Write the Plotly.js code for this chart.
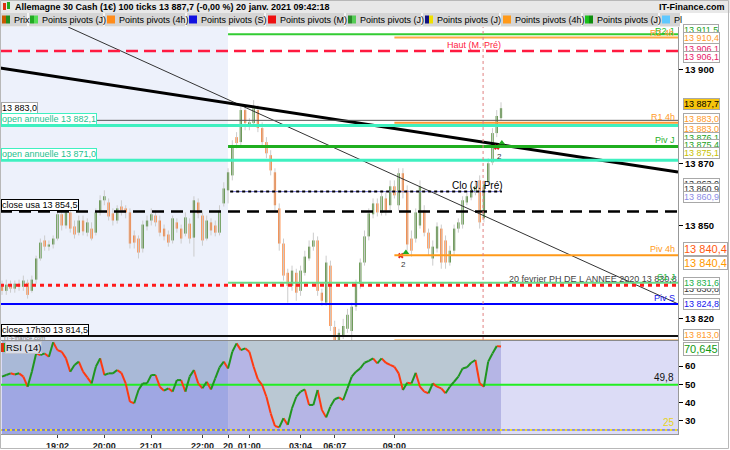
<!DOCTYPE html>
<html><head><meta charset="utf-8">
<script src="https://cdn.plot.ly/plotly-3.0.1.min.js"></script>
<style>html,body{margin:0;padding:0;background:#fff}#chart{width:730px;height:450px}</style>
</head><body><div id="chart"></div>
<script>
// ---------- DATA ----------
const openP = [13830.6,13829.0,13831.0,13829.7,13831.3,13830.3,13831.6,13829.0,13832.6,13839.4,
13845.2,13843.2,13843.9,13845.8,13853.6,13850.0,13854.2,13849.7,13847.7,13851.6,
13847.7,13849.0,13847.7,13854.2,13858.1,13857.4,13853.9,13851.6,13856.1,13855.5,
13854.2,13846.8,13845.8,13842.6,13849.7,13851.6,13853.2,13851.6,13849.0,13847.1,
13845.2,13851.0,13849.0,13847.4,13850.6,13846.1,13857.4,13853.2,13845.8,13851.0,
13850.0,13847.7,13857.1,13861.3,13866.1,13878.4,13876.8,13887.1,13882.3,13882.9,
13887.1,13881.3,13876.8,13872.6,13867.1,13855.5,13844.2,13834.8,13830.6,13834.8,
13829.0,13834.8,13839.4,13843.2,13845.2,13828.4,13825.2,13837.1,13817.4,13812.9,
13814.8,13816.8,13816.1,13823.9,13831.3,13838.1,13846.5,13853.6,13857.1,13854.2,
13858.7,13856.5,13862.6,13856.5,13866.8,13861.3,13845.8,13845.8,13850.0,13854.8,
13847.7,13839.4,13842.6,13849.0,13845.2,13838.1,13841.9,13849.0,13850.3,13857.4,
13859.0,13860.6,13864.5,13852.3,13863.9,13870.3,13879.7,13884.5];
const highP = [13832.3,13832.6,13832.3,13832.3,13832.6,13833.9,13832.6,13833.9,13840.3,13845.8,
13846.8,13845.2,13846.8,13855.5,13854.8,13858.1,13855.5,13851.6,13853.2,13853.2,
13852.3,13851.0,13855.5,13859.7,13861.3,13858.7,13855.5,13856.5,13858.1,13856.5,
13855.5,13848.4,13846.8,13851.6,13853.2,13855.5,13854.8,13853.2,13850.3,13848.4,
13853.2,13852.3,13850.3,13854.2,13852.3,13859.4,13858.7,13854.8,13853.2,13852.3,
13851.6,13856.5,13863.9,13868.4,13877.4,13880.0,13888.7,13888.7,13884.5,13890.3,
13888.7,13883.2,13878.4,13874.2,13868.4,13857.1,13845.8,13836.1,13837.1,13836.1,
13837.1,13841.9,13845.2,13847.7,13846.5,13829.7,13840.3,13838.7,13819.4,13816.8,
13820.0,13823.2,13825.2,13832.6,13839.4,13848.4,13855.5,13858.7,13858.7,13861.3,
13860.6,13864.5,13864.5,13868.4,13868.4,13862.9,13848.4,13855.5,13864.5,13856.5,
13849.0,13845.2,13851.0,13850.3,13846.8,13843.5,13850.3,13852.3,13859.4,13860.6,
13862.9,13864.5,13866.1,13864.5,13871.6,13881.3,13887.1,13889.6];
const lowP = [13827.7,13827.7,13828.4,13828.4,13829.0,13829.0,13826.5,13828.4,13831.3,13838.7,
13841.9,13841.9,13842.6,13845.2,13848.4,13849.0,13847.7,13845.8,13846.8,13846.8,
13846.5,13845.2,13846.8,13853.2,13856.5,13851.6,13850.0,13850.6,13853.2,13852.3,
13842.6,13842.6,13839.4,13841.3,13848.4,13850.0,13849.7,13846.5,13845.2,13843.2,
13844.2,13847.7,13844.2,13846.5,13844.2,13840.0,13852.3,13843.5,13845.2,13846.8,
13846.5,13846.8,13856.1,13857.1,13864.5,13874.8,13875.8,13880.6,13880.6,13882.3,
13880.0,13875.8,13871.6,13866.1,13854.8,13841.9,13832.3,13825.2,13829.0,13825.8,
13827.4,13833.9,13838.7,13841.9,13827.4,13824.2,13824.2,13816.1,13811.3,13811.3,
13813.5,13815.5,13812.9,13822.6,13829.7,13837.1,13845.2,13852.3,13852.9,13853.2,
13853.2,13854.8,13858.7,13854.8,13858.7,13841.9,13840.0,13844.5,13849.0,13846.5,
13840.3,13837.1,13841.3,13836.1,13836.1,13837.1,13840.3,13847.7,13849.0,13856.5,
13858.1,13859.7,13849.0,13851.0,13862.9,13869.4,13878.4,13883.9];
const closeP = [13829.0,13831.0,13829.7,13831.3,13830.3,13832.3,13827.7,13832.6,13839.4,13844.5,
13843.2,13843.9,13845.8,13853.6,13850.0,13854.2,13849.0,13847.1,13851.6,13848.1,
13851.0,13845.8,13854.2,13858.1,13859.4,13852.9,13851.6,13855.5,13854.8,13854.2,
13844.2,13844.5,13841.3,13850.3,13851.6,13853.6,13851.0,13847.7,13846.5,13844.5,
13852.3,13849.0,13845.8,13852.6,13845.8,13858.1,13853.9,13845.2,13851.6,13848.4,
13847.7,13854.8,13861.9,13867.1,13875.8,13876.5,13887.1,13882.9,13883.2,13887.7,
13881.3,13876.8,13873.2,13867.7,13856.5,13844.2,13833.9,13830.6,13835.5,13828.4,
13835.5,13840.0,13843.2,13845.2,13829.0,13825.8,13838.1,13817.7,13812.9,13815.5,
13817.7,13821.3,13823.9,13831.3,13838.1,13846.5,13853.9,13857.1,13854.2,13859.4,
13854.8,13862.6,13859.7,13866.8,13860.6,13843.9,13841.9,13854.2,13862.6,13847.7,
13842.6,13843.2,13849.7,13838.1,13838.1,13841.9,13849.0,13851.0,13858.1,13859.4,
13861.3,13862.6,13851.0,13863.2,13870.0,13879.7,13885.2,13887.7];
const rsi = [54.2,55.1,56.0,55.4,56.0,54.2,48.7,56.9,66.9,66.0,
66.9,65.1,73.0,68.7,67.8,64.2,56.9,60.6,62.4,56.9,
53.8,50.5,59.6,64.2,55.1,56.0,56.0,57.8,56.3,50.5,
40.5,39.6,46.9,50.5,50.5,55.1,55.1,48.7,46.5,47.8,
46.0,52.3,52.3,46.0,54.2,57.8,50.5,47.8,51.4,47.2,
53.3,59.3,62.4,58.7,67.8,72.4,68.7,69.7,67.8,59.6,
52.7,49.6,43.2,34.1,27.2,26.4,31.4,27.8,36.9,43.2,
46.0,47.2,38.7,38.7,46.9,36.0,31.9,37.8,41.8,42.8,
41.4,47.8,54.2,56.9,58.7,61.8,62.8,64.2,61.5,64.2,
61.8,60.6,59.6,56.0,46.9,50.9,50.5,56.3,48.7,46.0,
45.1,50.5,48.7,47.8,45.1,48.7,51.4,54.2,58.7,59.3,
61.8,63.3,50.5,48.7,62.4,66.9,70.9,70.645];
const tickIdx = [13,24,35,47,53,58,70,78,92];
const tickText = ['19:02','20:00','21:01','22:00','20','01:00','03:04','06:07','09:00'];
const priceTicks = [13820,13850,13870,13900];
const rsiTicks = [30,40,50,60];
const levelNames = ['R2 J','R2 4h','Haut (M. Pré)','R1 4h','open annuelle','Piv J','open annuelle','Clo (J. Pré)','close usa','Piv 4h','S1 J','20 fevrier PH DE L ANNEE 2020','Piv S','close 17h30','S1 4h'];
const levelValues = [13911.5,13910.4,13906.1,13883.0,13882.1,13875.4,13871.0,13860.9,13854.5,13840.4,13831.6,13830.8,13824.8,13814.5,13813.0];
const refLine = 13883.8;
const hiddenValues = [13876.1,13875.1,13863.0];
const rsiMid = 49.8, rsiLow = 25;
const trendThickX = [-0.47,158.5], trendThickY = [13900.6,13867.2];
const trendThinX = [15.5,158.5], trendThinY = [13913.8,13824.8];
const sigRedX = [93.5,116.0], sigRedY = [13840.3,13875.2];
const sigGreenX = [94.7,117.2], sigGreenY = [13841.3,13876.5];
const sigCount = ['2','2'];
const markerIdx = 112.8;

// ---------- HELPERS ----------
const F = 'Arial, "Liberation Sans", sans-serif';
const W = 678, PB = 434, PH = 407;
const px = X => X / W;
const py = Y => (PB - Y) / PH;
function fmt(v, d) { if (d === undefined) d = 1; const s = v.toFixed(d).split('.'); const n = s[0].replace(/\B(?=(\d{3})+(?!\d))/g, ' '); return d ? n + ',' + s[1] : n; }
const X0 = -0.47, X1 = 158.5, DAY = 53, H4 = 92, CLO_END = 117.2;
const idx = openP.map((_, i) => i);
const last = closeP[closeP.length - 1];

// ---------- TRACES ----------
const traces = [];
function rsiFill(i0, i1, cTop, cBot) {
  const xs = idx.slice(i0, i1 + 1), ys = rsi.slice(i0, i1 + 1);
  traces.push({x: xs, y: xs.map(() => 90), yaxis: 'y2', mode: 'lines', line: {width: 0}, hoverinfo: 'skip'});
  traces.push({x: xs, y: ys, yaxis: 'y2', mode: 'lines', line: {width: 0}, fill: 'tonexty', fillcolor: cTop, hoverinfo: 'skip'});
  traces.push({x: xs, y: ys, yaxis: 'y2', mode: 'lines', line: {width: 0}, fill: 'tozeroy', fillcolor: cBot, hoverinfo: 'skip'});
}
rsiFill(0, DAY, '#a9b9d7', '#9fa7e3');
rsiFill(DAY, rsi.length - 1, '#bac8d3', '#b5b5e5');
traces.push({x: [X0, X1], y: [rsiMid, rsiMid], yaxis: 'y2', mode: 'lines', line: {color: '#22ee22', width: 2}, hoverinfo: 'skip'});
traces.push({x: [X0, X1], y: [rsiLow, rsiLow], yaxis: 'y2', mode: 'lines', line: {color: '#4646d0', width: 1}, hoverinfo: 'skip'});
traces.push({x: [X0, X1], y: [rsiLow, rsiLow], yaxis: 'y2', mode: 'lines', line: {color: '#f2e21e', width: 2, dash: '2px,3px'}, hoverinfo: 'skip'});
const gx = [], gy = [], rx = [], ry = [];
for (let i = 1; i < rsi.length; i++) {
  const up = rsi[i] >= rsi[i - 1];
  (up ? gx : rx).push(idx[i - 1], idx[i], null);
  (up ? gy : ry).push(rsi[i - 1], rsi[i], null);
}
traces.push({x: rx, y: ry, yaxis: 'y2', mode: 'lines', line: {color: '#ff3a10', width: 2}, hoverinfo: 'skip'});
traces.push({x: gx, y: gy, yaxis: 'y2', mode: 'lines', line: {color: '#1f951f', width: 2}, hoverinfo: 'skip'});

const wx = [], wy = [];
idx.forEach(i => { wx.push(i, i, null); wy.push(lowP[i], highP[i], null); });
traces.push({x: wx, y: wy, mode: 'lines', line: {color: '#cccccc', width: 1}, hoverinfo: 'skip'});
traces.push({type: 'bar', x: idx, y: idx.map(i => Math.max(Math.abs(closeP[i] - openP[i]), 0.3)),
  base: idx.map(i => Math.min(openP[i], closeP[i])), width: 0.52,
  marker: {color: idx.map(i => closeP[i] >= openP[i] ? '#357a16' : '#ff6c10'), line: {width: 0}}, hoverinfo: 'skip'});
traces.push({x: trendThinX, y: trendThinY, mode: 'lines', line: {color: '#333', width: 1}, hoverinfo: 'skip'});
traces.push({x: trendThickX, y: trendThickY, mode: 'lines', line: {color: '#000', width: 3}, hoverinfo: 'skip'});
traces.push({x: sigRedX, y: sigRedY, mode: 'markers', marker: {symbol: 'x', size: 5, color: '#e02020'}, hoverinfo: 'skip'});
traces.push({x: sigGreenX, y: sigGreenY, mode: 'markers', marker: {symbol: 'triangle-up', size: 6, color: '#22aa22'}, hoverinfo: 'skip'});

// ---------- SHAPES ----------
const shapes = [];
shapes.push({type: 'rect', xref: 'x', yref: 'y domain', x0: X0, x1: DAY, y0: 0, y1: 1, fillcolor: '#edf1fb', line: {width: 0}, layer: 'below'});
shapes.push({type: 'rect', xref: 'x', yref: 'y2 domain', x0: X0, x1: X1, y0: 0, y1: 1, fillcolor: '#dcdcf6', line: {width: 0}, layer: 'below'});
function hline(y, x0, x1, color, width, dash) {
  return {type: 'line', xref: 'x', yref: 'y', x0: x0, x1: x1, y0: y, y1: y, line: {color: color, width: width, dash: dash || 'solid'}};
}
const styles = [
  {c: '#33cc33', w: 2, from: DAY}, {c: '#ffaa44', w: 2, from: H4},
  {c: '#ff1a40', w: 2.5, dash: '12px,6px', from: X0}, {c: '#ff9933', w: 2, from: H4},
  {c: '#3ff0c0', w: 3, from: X0}, {c: '#1fae1f', w: 3, from: DAY},
  {c: '#3ff0c0', w: 3, from: X0}, {c: '#000', w: 2, dash: '3px,3px', from: DAY + 0.5, to: CLO_END},
  {c: '#000', w: 2.5, dash: '12px,7px', from: X0}, {c: '#ff9a1a', w: 2, from: H4},
  {c: '#66dd88', w: 2, from: DAY}, {c: '#ff1a1a', w: 3, dash: '4px,4px', from: X0},
  {c: '#0000ff', w: 2, from: X0}, {c: '#111', w: 2, from: X0}, {c: '#ff9a1a', w: 2, from: H4}
];
shapes.push(hline(refLine, X0, X1, '#555', 1));
shapes.push(hline(levelValues[7], DAY + 0.5, CLO_END, '#8080e0', 1));
levelValues.forEach((v, k) => { const s = styles[k]; shapes.push(hline(v, s.from, s.to || X1, s.c, s.w, s.dash)); });
shapes.push({type: 'line', xref: 'x', yref: 'y domain', x0: markerIdx, x1: markerIdx, y0: 0, y1: 1, line: {color: '#e08080', width: 1, dash: 'dot'}});
function prect(X0p, Y0p, X1p, Y1p, fill, lc) { return {type: 'rect', xref: 'paper', yref: 'paper', x0: px(X0p), x1: px(X1p), y0: py(Y1p), y1: py(Y0p), fillcolor: fill || 'rgba(0,0,0,0)', line: {color: lc || 'rgba(0,0,0,0)', width: lc ? 1 : 0}}; }
shapes.push({type: 'line', xref: 'paper', yref: 'paper', x0: 0, x1: px(679), y0: py(340.5), y1: py(340.5), line: {color: '#8a8a8a', width: 1}});
shapes.push(prect(0, 0, 730, 13, '#e8e8e8'));
shapes.push(prect(0, 13, 680, 26.5, '#d5d5d5'));
[28, 104, 186, 265, 345, 422, 500, 582, 659].forEach(X => shapes.push({type: 'line', xref: 'paper', yref: 'paper', x0: px(X), x1: px(X), y0: py(13), y1: py(26.5), line: {color: '#f4f4f4', width: 2}}));
const icons = [[2, '#c85a00', '#1f8f1f'], [30, '#22aa22', '#55dd55'], [107, '#ff8c1a', '#ff8c1a'], [189, '#1010e0', '#1010e0'], [268, '#ee1111', '#ee1111'], [348, '#2a8a2a', '#55cc55'], [425, '#101080', '#f0e000'], [503, '#ff9a1a', '#ff9a1a'], [585, '#1bbf1b', '#0e8e0e'], [662, '#5ec8ff', '#5ec8ff']];
icons.forEach(ic => { shapes.push(prect(ic[0], 15.5, ic[0] + 4, 23.5, ic[1])); shapes.push(prect(ic[0] + 4, 15.5, ic[0] + 8, 23.5, ic[2])); });
shapes.push(prect(3, 3, 6, 10, '#dd3311')); shapes.push(prect(7, 2, 10, 9, '#22aa22'));
shapes.push(prect(1, 343, 4, 352, '#dd3311')); shapes.push(prect(4, 343, 7, 352, '#22aa22'));
shapes.push(prect(0.5, 0.5, 728.5, 448.5, null, '#b8b8b8'));

// ---------- ANNOTATIONS ----------
const ann = [];
function txt(X, Y, text, color, o) {
  return Object.assign({xref: 'paper', yref: 'paper', x: px(X), y: py(Y), xanchor: 'left', yanchor: 'middle', text: text, showarrow: false, font: {family: F, size: 9, color: color}}, o || {});
}
function box(X, Y, text, color, o) {
  return Object.assign(txt(X, Y, text, color), {bgcolor: '#fff', bordercolor: '#a8a8a8', borderwidth: 1, borderpad: 0}, o || {});
}
ann.push(txt(13, 6.5, '<b>Allemagne 30 Cash (1€) 100 ticks ' + fmt(last) + ' (-0,00 %) 20 janv. 2021 09:42:18</b>', '#000'));
ann.push(txt(727, 6.5, '<b>IT-Finance.com</b>', '#000', {xanchor: 'right'}));
const legendText = ['Prix', 'Points pivots (J)', 'Points pivots (4h)', 'Points pivots (S)', 'Points pivots (M)', 'Points pivots (J)', 'Points pivots (J)', 'Points pivots (4h)', 'Points pivots (J)', 'Pl'];
icons.forEach((ic, k) => ann.push(txt(ic[0] + 9.5, 19.8, legendText[k], '#000')));
const rb = [
  [30, 13911.5, '#1a9f1a'], [38.5, levelValues[1], '#ff9a2a'], [49, levelValues[2], '#e8206a'], [57, levelValues[2], '#e8206a'],
  [119, levelValues[3], '#ff9a2a'], [128.5, levelValues[3], '#ff9a2a'],
  [137.5, hiddenValues[0], '#1a9f1a'], [145, levelValues[5], '#1a9f1a'], [153, hiddenValues[1], '#c8c000'],
  [184, hiddenValues[2], '#333'], [189, levelValues[7], '#333'], [197, levelValues[7], '#8c8ce6'],
  [289, levelValues[11], '#333'], [283, levelValues[10], '#22b04a'], [304, levelValues[12], '#1515ee'], [335, levelValues[14], '#ff9a2a']
];
rb.forEach(b => ann.push(box(683, b[0], fmt(b[1]), b[2])));
ann.push(box(683, 104, fmt(last), '#000', {bgcolor: '#f6c40c'}));
ann.push(box(683, 248.5, fmt(levelValues[9]), '#ff5a10', {font: {family: F, size: 11, color: '#ff5a10'}}));
ann.push(box(683, 262.5, fmt(levelValues[9]), '#ff9900', {font: {family: F, size: 11, color: '#ff9900'}}));
ann.push(box(683, 349, fmt(rsi[rsi.length - 1], 3), '#129912', {font: {family: F, size: 11, color: '#129912'}}));
ann.push(box(1, 108, fmt(levelValues[3]), '#000'));
ann.push(box(1, 119, 'open annuelle ' + fmt(levelValues[4]), '#1fbf8f', {bordercolor: '#3ff0c0'}));
ann.push(box(1, 153.5, 'open annuelle ' + fmt(levelValues[6]), '#1fbf8f', {bordercolor: '#3ff0c0'}));
ann.push(box(1, 205, levelNames[8] + ' ' + fmt(levelValues[8]), '#000', {bordercolor: '#000'}));
ann.push(box(1, 330, levelNames[13] + ' ' + fmt(levelValues[13]), '#000', {bordercolor: '#000'}));
ann.push(txt(2, 338, 'IT-Finance.com', '#777', {font: {family: F, size: 6, color: '#777'}}));
function lvl(k, color, o) {
  return Object.assign({xref: 'paper', yref: 'y', x: px(676), y: levelValues[k], xanchor: 'right', yanchor: 'bottom', text: levelNames[k], showarrow: false, font: {family: F, size: 9, color: color}, borderpad: 0}, o || {});
}
ann.push(txt(676, 30.5, levelNames[0], '#22bb22', {xanchor: 'right'}));
ann.push(txt(676, 33, levelNames[1], '#ff9a2a', {xanchor: 'right'}));
ann.push(lvl(2, '#ff1a40', {xref: 'x', x: 110.7, xanchor: 'center'}));
ann.push(lvl(3, '#ff9a2a'));
ann.push(lvl(5, '#1fae1f'));
ann.push(lvl(7, '#000', {xref: 'x', x: 111.6, xanchor: 'center', font: {family: F, size: 10, color: '#000'}}));
ann.push(lvl(9, '#ff9a1a'));
ann.push(lvl(11, '#444', {x: 1, xanchor: 'right', text: levelNames[11] + ' ' + fmt(levelValues[11])}));
ann.push(lvl(10, '#22bb44'));
ann.push(lvl(12, '#1515ee'));
ann.push(lvl(14, '#ff9a1a', {yanchor: 'middle', yshift: 4}));
sigRedX.forEach((x, k) => ann.push({xref: 'x', yref: 'y', x: x + 0.6, y: sigRedY[k], yshift: -9, text: sigCount[k], showarrow: false, font: {family: F, size: 8, color: '#333'}}));
ann.push(box(4.5, 347.5, 'RSI (14)', '#000', {bgcolor: '#d9dde8', bordercolor: '#c0c4d0', font: {family: F, size: 9.5, color: '#000'}}));
ann.push({xref: 'paper', yref: 'y2', x: px(676), y: rsiMid, xanchor: 'right', yanchor: 'bottom', text: fmt(rsiMid), showarrow: false, font: {family: F, size: 10, color: '#111'}});
ann.push({xref: 'paper', yref: 'y2', x: px(677), y: rsiLow, xanchor: 'right', yanchor: 'bottom', text: String(rsiLow), showarrow: false, font: {family: F, size: 10, color: '#e6d21e'}});

// ---------- LAYOUT ----------
const layout = {
  width: 730, height: 450, margin: {l: 0, r: 52, t: 27, b: 16},
  paper_bgcolor: '#fff', plot_bgcolor: '#fff', showlegend: false, barmode: 'overlay',
  font: {family: F, size: 9, color: '#000'},
  xaxis: {domain: [0, 1], range: [X0, X1], anchor: 'y2', tickvals: tickIdx, ticktext: tickText.map(t => '<b>' + t + '</b>'),
    ticks: 'outside', ticklen: 3, tickcolor: '#444', tickfont: {family: F, size: 9, color: '#222'},
    showgrid: false, zeroline: false, showline: true, linecolor: '#999', fixedrange: true},
  yaxis: {domain: [0.231, 1], range: [13813.2, 13913.8], side: 'right', anchor: 'x', tickvals: priceTicks,
    ticktext: priceTicks.map(v => '<b>' + fmt(v, 0) + '</b>'), ticks: 'outside', ticklen: 4, tickcolor: '#000',
    tickfont: {family: F, size: 9.5, color: '#000'}, showgrid: false, zeroline: false, showline: true, linecolor: '#999'},
  yaxis2: {domain: [0, 0.2285], range: [22.8, 73.7], side: 'right', anchor: 'x', tickvals: rsiTicks,
    ticktext: rsiTicks.map(v => '<b>' + v + '</b>'), ticks: 'outside', ticklen: 4, tickcolor: '#000',
    tickfont: {family: F, size: 9.5, color: '#000'}, showgrid: false, zeroline: false, showline: true, linecolor: '#999'},
  shapes: shapes, annotations: ann
};
Plotly.newPlot('chart', traces, layout, {staticPlot: true, displayModeBar: false});
</script></body></html>
